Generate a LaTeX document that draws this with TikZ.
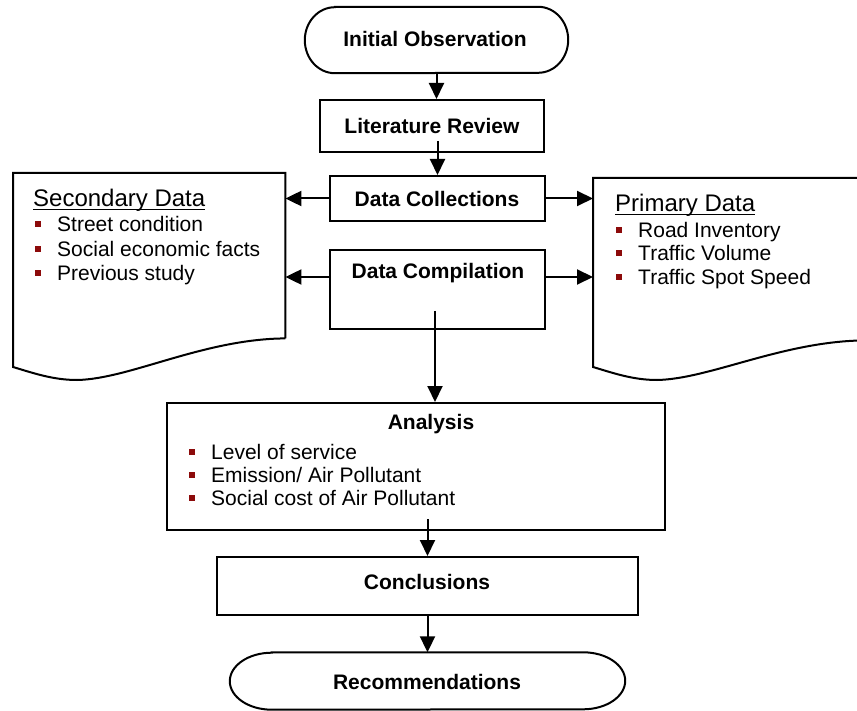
\documentclass[tikz,border=0pt]{standalone}
\usepackage{fontspec}
\setmainfont{Liberation Sans}
\usetikzlibrary{arrows.meta,calc}
\definecolor{bulletred}{RGB}{140,10,10}
\newcommand{\bulsq}{\textcolor{bulletred}{\rule[4.5pt]{6pt}{6pt}}\hspace{16pt}}
\newcommand{\myul}[1]{\setbox0\hbox{#1}\rlap{\rule[-3.5pt]{\wd0}{1.6pt}}\box0}
\begin{document}
\begin{tikzpicture}[x=1pt,y=-1pt,
  line/.style={line width=2pt,black},
  arr/.style={line width=2pt,-{Triangle[length=16pt,width=15pt]}},
  box/.style={draw,line width=2pt,rectangle,inner sep=0pt},
  ghost/.style={rectangle,inner sep=0pt},
  lbl/.style={font=\bfseries\fontsize{21}{25}\selectfont,inner sep=0pt},
  item/.style={font=\fontsize{21}{25}\selectfont,inner sep=0pt,anchor=base west},
  head/.style={font=\fontsize{24}{28}\selectfont,inner sep=0pt,anchor=base west}]
\useasboundingbox (0,0) rectangle (857,711);
\clip (0,0) rectangle (857,711);

% Initial Observation (stadium)
\node[ghost,minimum width=263pt,minimum height=66pt] (io) at (436.5,40) {};
\draw[line] ($(io.north west)+(30,0)$) -- ($(io.north east)+(-30,0)$)
  arc[start angle=90,end angle=-90,x radius=30pt,y radius=33pt]
  -- ($(io.south west)+(30,0)$)
  arc[start angle=270,end angle=90,x radius=30pt,y radius=33pt] -- cycle;
\node[lbl] (iot) at (435,39) {Initial Observation};

% Literature Review
\node[box,minimum width=224pt,minimum height=52pt] (lit) at (432,126) {};
\node[lbl] (litt) at (432,126) {Literature Review};

% Data Collections
\node[box,minimum width=215pt,minimum height=45pt] (dc) at (437.5,198.5) {};
\node[lbl] (dct) at (437,199) {Data Collections};

% Data Compilation
\node[box,minimum width=215pt,minimum height=79pt] (dcomp) at (437.5,289.5) {};
\node[lbl] (dcompt) at (438,273) {Data Compilation};

% Secondary Data document
\node[ghost,minimum width=272pt,minimum height=165pt,anchor=north west] (sec) at (13,173) {};
\draw[line] (sec.south east) -- (sec.north east) -- (sec.north west)
  -- ($(sec.north west)+(0,194)$)
  .. controls ($(sec.north west)+(20,200)$) and ($(sec.north west)+(40,207)$) .. ($(sec.north west)+(64,207)$)
  .. controls ($(sec.north west)+(117,206)$) and ($(sec.north west)+(190,166)$) .. (sec.south east);
\node[head] (s0) at (33,207) {\myul{Secondary Data}};
\node[item] (s1) at (35,232) {\bulsq Street condition};
\node[item] (s2) at (35,256.5) {\bulsq Social economic facts};
\node[item] (s3) at (35,280.5) {\bulsq Previous study};

% Primary Data document
\node[ghost,minimum width=272pt,minimum height=162pt,anchor=north west] (pri) at (593,178) {};
\draw[line] (pri.south east) -- (pri.north east) -- (pri.north west)
  -- ($(pri.north west)+(0,189)$)
  .. controls ($(pri.north west)+(20,195)$) and ($(pri.north west)+(40,202)$) .. ($(pri.north west)+(64,202)$)
  .. controls ($(pri.north west)+(117,201)$) and ($(pri.north west)+(190,163)$) .. (pri.south east);
\node[head] (p0) at (615,212) {\myul{Primary Data}};
\node[item] (p1) at (616,237.5) {\bulsq Road Inventory};
\node[item] (p2) at (616,260.5) {\bulsq Traffic Volume};
\node[item] (p3) at (616,284.5) {\bulsq Traffic Spot Speed};

% Analysis
\node[box,minimum width=498pt,minimum height=127pt] (ana) at (416,466.5) {};
\node[lbl] (anat) at (431,424) {Analysis};
\node[item] (a1) at (189,459.5) {\bulsq Level of service};
\node[item] (a2) at (189,482.5) {\bulsq Emission/ Air Pollutant};
\node[item] (a3) at (189,505.5) {\bulsq Social cost of Air Pollutant};

% Conclusions
\node[box,minimum width=421pt,minimum height=58pt] (conc) at (427.5,586) {};
\node[lbl] (conct) at (427,582) {Conclusions};

% Recommendations (stadium)
\node[ghost,minimum width=395pt,minimum height=57pt] (rec) at (427.5,681) {};
\draw[line] ($(rec.north west)+(42,0)$) -- ($(rec.north east)+(-42,0)$)
  arc[start angle=90,end angle=-90,x radius=42pt,y radius=28.5pt]
  -- ($(rec.south west)+(42,0)$)
  arc[start angle=270,end angle=90,x radius=42pt,y radius=28.5pt] -- cycle;
\node[lbl] (rect) at (427,682) {Recommendations};

% Connectors
\draw[arr] (io.south) -- (io.south |- lit.north);
\draw[arr] ($(dc.north |- lit.south)+(0,-12)$) -- (dc.north);
\draw[arr] (dc.west) -- (dc.west -| sec.east);
\draw[arr] (dc.east) -- (dc.east -| pri.west);
\draw[arr] ($(dcomp.north west)+(0,28)$) coordinate (cl) -- (cl -| sec.east);
\draw[arr] ($(dcomp.north east)+(0,28)$) coordinate (cr) -- (cr -| pri.west);
\draw[arr] ($(dcomp.south)+(-2.5,-19)$) coordinate (cd) -- (cd |- ana.north);
\draw[arr] ($(conc.north |- ana.south)+(0,-12)$) -- (conc.north);
\draw[arr] (conc.south) -- (rec.north);
\end{tikzpicture}
\end{document}
